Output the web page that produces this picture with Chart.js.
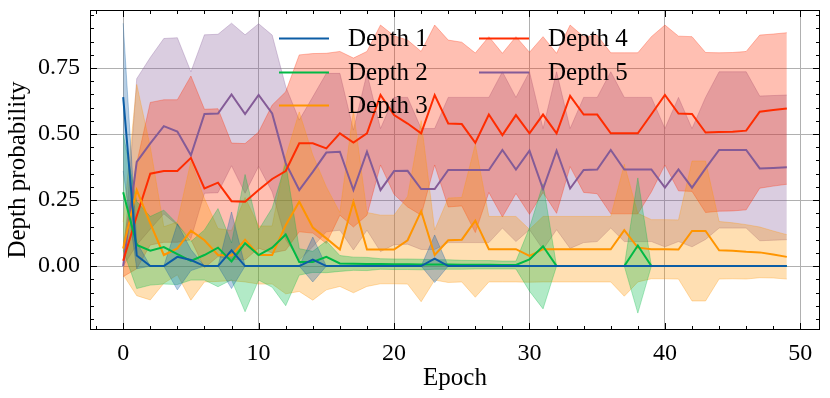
<!DOCTYPE html>
<html>
<head>
<meta charset="utf-8">
<script src="https://cdn.jsdelivr.net/npm/chart.js@4.4.0/dist/chart.umd.min.js"></script>
<style>
  html, body { margin: 0; padding: 0; background: #fff; }
  #wrap { width: 830px; height: 398px; }
</style>
</head>
<body>
<div id="wrap"><canvas id="chart" width="830" height="398"></canvas></div>
<script>
const epochs = [
  0, 1, 2, 3, 4, 5, 6, 7, 8, 9,
  10, 11, 12, 13, 14, 15, 16, 17, 18, 19,
  20, 21, 22, 23, 24, 25, 26, 27, 28, 29,
  30, 31, 32, 33, 34, 35, 36, 37, 38, 39,
  40, 41, 42, 43, 44, 45, 46, 47, 48, 49
];

const labels = ['Depth 1', 'Depth 2', 'Depth 3', 'Depth 4', 'Depth 5'];
const colors = ['#0C5DA5', '#00B945', '#FF9500', '#FF2C00', '#845B97'];

const d1Mean = [
  0.64, 0.04, 0, 0, 0.035, 0.023, 0, 0, 0.06, 0,
  0, 0, 0, 0, 0.025, 0, 0, 0, 0, 0,
  0, 0, 0, 0.028, 0, 0, 0, 0, 0, 0,
  0, 0, 0, 0, 0, 0, 0, 0, 0, 0,
  0, 0, 0, 0, 0, 0, 0, 0, 0, 0
];
const d1Std = [
  0.28, 0.05, 0, 0, 0.125, 0.04, 0, 0, 0.145, 0,
  0, 0, 0, 0, 0.085, 0, 0, 0, 0, 0,
  0, 0, 0, 0.09, 0, 0, 0, 0, 0, 0,
  0, 0, 0, 0, 0, 0, 0, 0, 0, 0,
  0, 0, 0, 0, 0, 0, 0, 0, 0, 0
];

const d2Mean = [
  0.28, 0.08, 0.058, 0.072, 0.045, 0.02, 0.042, 0.07, 0.018, 0.087,
  0.042, 0.07, 0.12, 0.016, 0.016, 0.035, 0.01, 0.009, 0.008, 0.008,
  0.007, 0.007, 0.006, 0.006, 0.006, 0.005, 0.005, 0.005, 0.004, 0.004,
  0.025, 0.075, 0, 0, 0, 0, 0, 0, 0.078, 0,
  0, 0, 0, 0, 0, 0, 0, 0, 0, 0
];
const d2Std = [
  0.22, 0.165, 0.13, 0.14, 0.115, 0.073, 0.095, 0.148, 0.07, 0.26,
  0.095, 0.15, 0.27, 0.05, 0.04, 0.06, 0.03, 0.025, 0.025, 0.02,
  0.02, 0.02, 0.02, 0.018, 0.018, 0.017, 0.016, 0.016, 0.015, 0.015,
  0.12, 0.237, 0, 0, 0, 0, 0, 0, 0.256, 0,
  0, 0, 0, 0, 0, 0, 0, 0, 0, 0
];

const d3Mean = [
  0.067, 0.288, 0.162, 0.042, 0.067, 0.134, 0.098, 0.042, 0.04, 0.10,
  0.042, 0.042, 0.155, 0.244, 0.146, 0.105, 0.063, 0.244, 0.063, 0.063,
  0.063, 0.098, 0.208, 0.042, 0.098, 0.10, 0.172, 0.064, 0.064, 0.064,
  0.039, 0.064, 0.064, 0.064, 0.064, 0.064, 0.064, 0.136, 0.07, 0.064,
  0.064, 0.063, 0.133, 0.133, 0.06, 0.058, 0.054, 0.052, 0.044, 0.035
];
const d3Std = [
  0.10, 0.40, 0.29, 0.107, 0.10, 0.263, 0.158, 0.10, 0.095, 0.16,
  0.11, 0.11, 0.26, 0.34, 0.275, 0.195, 0.14, 0.345, 0.14, 0.13,
  0.13, 0.166, 0.343, 0.095, 0.16, 0.16, 0.29, 0.124, 0.124, 0.124,
  0.10, 0.124, 0.124, 0.124, 0.124, 0.124, 0.124, 0.25, 0.13, 0.112,
  0.112, 0.112, 0.265, 0.265, 0.109, 0.106, 0.103, 0.096, 0.089, 0.084
];

const d4Mean = [
  0.02, 0.19, 0.35, 0.36, 0.36, 0.41, 0.294, 0.316, 0.246, 0.244,
  0.288, 0.33, 0.36, 0.465, 0.465, 0.446, 0.503, 0.468, 0.503, 0.648,
  0.572, 0.54, 0.503, 0.648, 0.54, 0.538, 0.467, 0.574, 0.496, 0.572,
  0.503, 0.574, 0.503, 0.645, 0.574, 0.574, 0.503, 0.503, 0.503, 0.575,
  0.648, 0.578, 0.576, 0.506, 0.508, 0.509, 0.513, 0.585, 0.591, 0.597
];
const d4Std = [
  0.06, 0.20, 0.27, 0.27, 0.27, 0.31, 0.30, 0.28, 0.22, 0.22,
  0.22, 0.28, 0.30, 0.335, 0.34, 0.36, 0.31, 0.32, 0.31, 0.265,
  0.30, 0.316, 0.31, 0.265, 0.316, 0.31, 0.34, 0.295, 0.31, 0.297,
  0.307, 0.295, 0.303, 0.268, 0.295, 0.30, 0.305, 0.305, 0.305, 0.294,
  0.265, 0.293, 0.293, 0.303, 0.30, 0.30, 0.30, 0.29, 0.288, 0.287
];

const d5Mean = [
  0, 0.395, 0.465, 0.53, 0.51, 0.42, 0.576, 0.578, 0.65, 0.576,
  0.648, 0.578, 0.39, 0.288, 0.357, 0.43, 0.433, 0.288, 0.433, 0.288,
  0.36, 0.361, 0.292, 0.292, 0.364, 0.364, 0.364, 0.364, 0.44, 0.366,
  0.437, 0.292, 0.437, 0.294, 0.364, 0.366, 0.44, 0.366, 0.366, 0.366,
  0.297, 0.366, 0.297, 0.37, 0.44, 0.44, 0.44, 0.37, 0.372, 0.374
];
const d5Std = [
  0, 0.315, 0.325, 0.332, 0.355, 0.316, 0.30, 0.30, 0.27, 0.30,
  0.27, 0.297, 0.29, 0.265, 0.284, 0.30, 0.297, 0.227, 0.297, 0.233,
  0.279, 0.278, 0.229, 0.229, 0.275, 0.275, 0.275, 0.275, 0.296, 0.273,
  0.299, 0.229, 0.299, 0.227, 0.275, 0.273, 0.296, 0.273, 0.273, 0.273,
  0.224, 0.273, 0.224, 0.269, 0.296, 0.296, 0.296, 0.274, 0.274, 0.274
];

const xTicks = [0, 10, 20, 30, 40, 50];
const yTicks = [0, 0.25, 0.5, 0.75];

const means = [d1Mean, d2Mean, d3Mean, d4Mean, d5Mean];
const stds = [d1Std, d2Std, d3Std, d4Std, d5Std];

const FONT = "'Liberation Serif', 'Times New Roman', serif";

function rgba(hex, a) {
  const n = parseInt(hex.slice(1), 16);
  return `rgba(${n >> 16},${(n >> 8) & 255},${n & 255},${a})`;
}

function pts(arr) {
  return epochs.map((e, i) => ({ x: e, y: arr[i] }));
}

// mean lines on top, mean +/- std bands underneath
const datasets = [];
labels.forEach((lab, k) => {
  datasets.push({
    label: lab,
    data: pts(means[k]),
    borderColor: colors[k],
    borderWidth: 2,
    pointRadius: 0,
    fill: false,
    order: 0
  });
});
labels.forEach((lab, k) => {
  const up = means[k].map((m, i) => m + stds[k][i]);
  const lo = means[k].map((m, i) => m - stds[k][i]);
  datasets.push({
    label: lab + ' upper',
    data: pts(up),
    borderColor: rgba(colors[k], 0.3),
    backgroundColor: rgba(colors[k], 0.3),
    borderWidth: 1,
    pointRadius: 0,
    fill: '+1',
    order: 1
  });
  datasets.push({
    label: lab + ' lower',
    data: pts(lo),
    borderColor: rgba(colors[k], 0.3),
    borderWidth: 1,
    pointRadius: 0,
    fill: false,
    order: 1
  });
});

// box + inward major/minor ticks on all four sides
const frameTicks = {
  id: 'frameTicks',
  afterDraw(chart) {
    const { ctx, chartArea: a, scales: { x, y } } = chart;
    ctx.save();
    ctx.strokeStyle = '#000';
    ctx.lineWidth = 1;
    ctx.strokeRect(a.left + 0.5, a.top + 0.5, a.right - a.left - 1, a.bottom - a.top - 1);
    ctx.beginPath();
    for (let v = -2; v <= 51; v += 2) {
      const px = Math.round(x.getPixelForValue(v)) + 0.5;
      const len = xTicks.includes(v) ? 7 : 4;
      ctx.moveTo(px, a.bottom); ctx.lineTo(px, a.bottom - len);
      ctx.moveTo(px, a.top); ctx.lineTo(px, a.top + len);
    }
    for (let i = -4; i <= 19; i++) {
      const v = i * 0.05;
      const py = Math.round(y.getPixelForValue(v)) + 0.5;
      const len = i % 5 === 0 ? 7 : 4;
      ctx.moveTo(a.left, py); ctx.lineTo(a.left + len, py);
      ctx.moveTo(a.right, py); ctx.lineTo(a.right - len, py);
    }
    ctx.stroke();
    ctx.restore();
  }
};

// two-column legend, no frame
const legendCols = [
  { x: 279, names: [0, 1, 2] },
  { x: 479, names: [3, 4] }
];
const legendRows = [38, 72, 105];

const legendPlugin = {
  id: 'legendPlugin',
  afterDraw(chart) {
    const ctx = chart.ctx;
    ctx.save();
    ctx.font = `25px ${FONT}`;
    ctx.fillStyle = '#000';
    ctx.textBaseline = 'alphabetic';
    legendCols.forEach(col => {
      col.names.forEach((k, r) => {
        const yy = legendRows[r];
        ctx.strokeStyle = colors[k];
        ctx.lineWidth = 2;
        ctx.beginPath();
        ctx.moveTo(col.x, yy + 0.5);
        ctx.lineTo(col.x + 50, yy + 0.5);
        ctx.stroke();
        ctx.fillText(labels[k], col.x + 69, yy + 8);
      });
    });
    ctx.restore();
  }
};

new Chart(document.getElementById('chart'), {
  type: 'line',
  data: { datasets },
  options: {
    responsive: false,
    animation: false,
    devicePixelRatio: 1,
    layout: { padding: { top: 10, right: 10, left: 0, bottom: 0 } },
    plugins: {
      legend: { display: false },
      tooltip: { enabled: false }
    },
    elements: { line: { tension: 0 } },
    scales: {
      x: {
        type: 'linear',
        min: -2.45,
        max: 51.45,
        afterBuildTicks: s => { s.ticks = xTicks.map(v => ({ value: v })); },
        afterFit: s => { s.height = 68; s.paddingLeft = 0; s.paddingRight = 0; },
        border: { display: false },
        grid: { color: '#b0b0b0', lineWidth: 1, drawTicks: false },
        ticks: {
          color: '#000',
          padding: 9,
          maxRotation: 0,
          font: { family: FONT, size: 24 },
          callback: v => String(v)
        },
        title: {
          display: true,
          text: 'Epoch',
          color: '#000',
          font: { family: FONT, size: 25 },
          padding: { top: 0, bottom: 5 }
        }
      },
      y: {
        min: -0.242,
        max: 0.97,
        afterBuildTicks: s => { s.ticks = yTicks.map(v => ({ value: v })); },
        afterFit: s => { s.width = 90; s.paddingTop = 0; s.paddingBottom = 0; },
        border: { display: false },
        grid: { color: '#b0b0b0', lineWidth: 1, drawTicks: false },
        ticks: {
          color: '#000',
          padding: 10,
          font: { family: FONT, size: 24 },
          callback: v => Number(v).toFixed(2)
        },
        title: {
          display: true,
          text: 'Depth probability',
          color: '#000',
          font: { family: FONT, size: 25 },
          padding: { top: 3, bottom: 0 }
        }
      }
    }
  },
  plugins: [frameTicks, legendPlugin]
});
</script>
</body>
</html>
